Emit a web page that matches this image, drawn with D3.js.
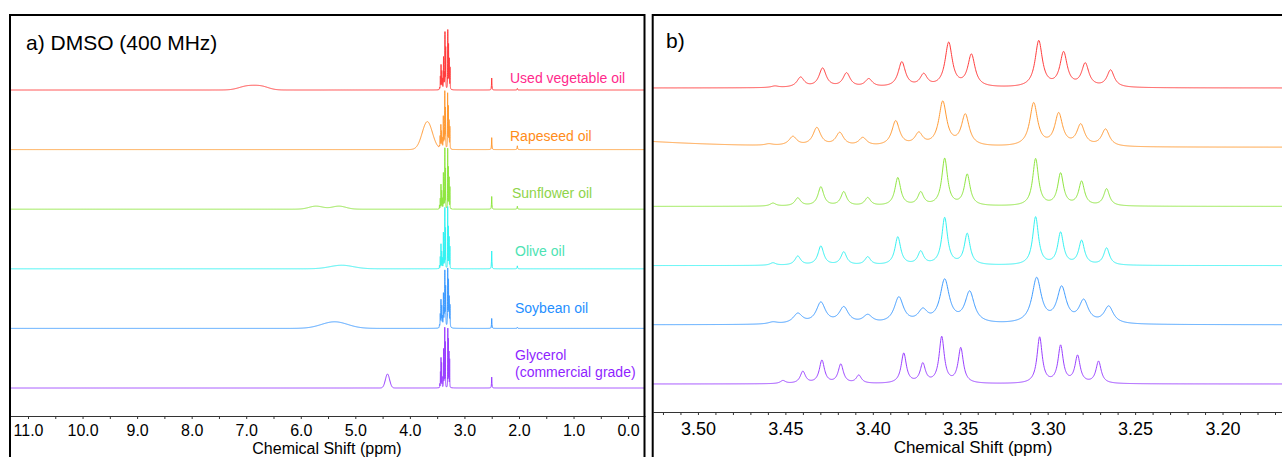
<!DOCTYPE html>
<html>
<head>
<meta charset="utf-8">
<script src="https://cdn.jsdelivr.net/npm/d3@7"></script>
<style>
  body { margin: 0; background: #fff; }
  svg { display: block; font-family: Arial, "Liberation Sans", sans-serif; }
</style>
</head>
<body>
<div id="chart-container"></div>
<script>
// samples, top to bottom
const samples = ['Used vegetable oil', 'Rapeseed oil', 'Sunflower oil', 'Olive oil', 'Soybean oil', 'Glycerol']
const traceColors = ['#ff3b3b', '#ff9a33', '#8fe640', '#33f2f2', '#3d9bff', '#9a40ff']
const labelColors = ['#ff2a8c', '#ff8c1a', '#8fd44a', '#4de3b3', '#1f8fff', '#8f1fff']

// glycerol multiplet peaks: [ppm, height]
const multUsed = [[3.4560, 1.5], [3.4413, 10], [3.4287, 19], [3.4150, 14], [3.4023, 8], [3.3834, 25], [3.3709, 12],
  [3.3566, 44], [3.3436, 32], [3.3051, 46], [3.2909, 34], [3.2785, 23], [3.2640, 17]]
const multRape = [[3.4594, 1.5], [3.4457, 9], [3.4320, 18], [3.4189, 13], [3.4057, 8], [3.3869, 25], [3.3737, 12],
  [3.3600, 44], [3.3471, 31], [3.3080, 43], [3.2937, 32], [3.2811, 21], [3.2669, 17]]
const multSun = [[3.4571, 3], [3.4429, 8], [3.4297, 19], [3.4166, 14], [3.4029, 8], [3.3857, 28], [3.3726, 13],
  [3.3589, 47], [3.3460, 31], [3.3069, 47], [3.2926, 32], [3.2806, 24], [3.2663, 17]]
const multOlive = [[3.4571, 2.5], [3.4429, 9], [3.4297, 19], [3.4166, 13], [3.4029, 8], [3.3857, 28], [3.3726, 13],
  [3.3589, 47], [3.3460, 31], [3.3069, 48], [3.2926, 32], [3.2806, 24], [3.2663, 17]]
const multSoy = [[3.4571, 2], [3.4429, 10], [3.4297, 21], [3.4166, 16], [3.4029, 8], [3.3851, 26], [3.3714, 12],
  [3.3589, 43], [3.3446, 31], [3.3063, 45], [3.2920, 35], [3.2794, 22], [3.2651, 17]]
const multGly = [[3.4514, 3], [3.4400, 12], [3.4291, 23], [3.4183, 19], [3.4080, 8], [3.3823, 30], [3.3714, 19],
  [3.3606, 46], [3.3497, 35], [3.3046, 46], [3.2926, 37], [3.2829, 27], [3.2709, 22]]
const multWidths = [0.0025, 0.0027, 0.0020, 0.0020, 0.0032, 0.0018] // half width, ppm

// other signals seen in panel a: [ppm, height, half width, shape]
const otherUsed = [[6.98, 3.0, 0.18, 'g'], [6.72, 2.6, 0.16, 'g'], [2.5, 9.4, 0.004, 'l'], [2.03, 1.2, 0.005, 'l']]
const otherRape = [[3.68, 22, 0.11, 'g'], [2.5, 9.4, 0.004, 'l'], [2.03, 3, 0.005, 'l']]
const otherSun = [[5.72, 2.4, 0.15, 'g'], [5.3, 2.4, 0.15, 'g'], [2.5, 10, 0.004, 'l'], [2.03, 2.3, 0.005, 'l']]
const otherOlive = [[5.25, 2.8, 0.25, 'g'], [2.5, 14, 0.004, 'l'], [2.03, 2.3, 0.005, 'l']]
const otherSoy = [[5.38, 5.2, 0.28, 'g'], [2.5, 7.8, 0.004, 'l'], [2.03, 0.8, 0.005, 'l']]
const otherGly = [[4.41, 11, 0.045, 'g'], [2.5, 8.6, 0.004, 'l']]

const multiplets = [multUsed, multRape, multSun, multOlive, multSoy, multGly]
const others = [otherUsed, otherRape, otherSun, otherOlive, otherSoy, otherGly]

const ticksA = d3.range(0, 11.01, 0.5)
const ticksB = d3.range(3.17, 3.525, 0.01)

const W = 1282
const H = 457

const svg = d3.select('#chart-container').append('svg')
  .attr('width', W)
  .attr('height', H)

// panels
const xa = d3.scaleLinear().domain([11.33, -0.31]).range([10, 645])
const xb = d3.scaleLinear().domain([3.5257, 3.166]).range([653, 1282])
const baseA = d3.scalePoint().domain(samples).range([90, 388])
const baseB = d3.scalePoint().domain(samples).range([88, 384])
const ya = d3.scaleLinear().domain([0, 48]).range([0, 61])
const yb = d3.scaleLinear().domain([0, 48]).range([0, 48])

const defs = svg.append('defs')
defs.append('clipPath').attr('id', 'clipA')
  .append('rect').attr('x', 10).attr('y', 15).attr('width', 635).attr('height', 400)
defs.append('clipPath').attr('id', 'clipB')
  .append('rect').attr('x', 653).attr('y', 15).attr('width', 629).attr('height', 396)

function intensity (i, ppm) {
  let v = 0
  const w = multWidths[i]
  multiplets[i].forEach(([c, h]) => {
    const d = (ppm - c) / w
    v += h / (1 + d * d)
  })
  others[i].forEach(([c, h, hw, shape]) => {
    const d = (ppm - c) / hw
    v += shape === 'g' ? h * Math.exp(-Math.LN2 * d * d) : h / (1 + d * d)
  })
  return v
}

function grid (lo, hi, step) {
  const g = []
  for (let v = lo; v <= hi; v += step) g.push(v)
  return g
}

// sampling positions for the drawn curves
const centers = others.flat().map(d => d[0]).concat(multiplets.flat().map(d => d[0]))
const gridA = grid(-0.31, 11.33, 0.005).concat(grid(3.2, 3.5, 0.0004), centers).sort((a, b) => b - a)
const gridB = grid(3.16, 3.53, 0.0002)

const gA = svg.append('g').attr('clip-path', 'url(#clipA)')
const gB = svg.append('g').attr('clip-path', 'url(#clipB)')

samples.forEach((name, i) => {
  const lineA = d3.line()
    .x(d => xa(d))
    .y(d => baseA(name) - ya(intensity(i, d)))
  gA.append('path')
    .datum(gridA)
    .attr('d', lineA)
    .attr('fill', 'none')
    .attr('stroke', traceColors[i])
    .attr('stroke-width', 1)

  const lineB = d3.line()
    .x(d => xb(d))
    .y(d => baseB(name) - yb(intensity(i, d)))
  gB.append('path')
    .datum(gridB)
    .attr('d', lineB)
    .attr('fill', 'none')
    .attr('stroke', traceColors[i])
    .attr('stroke-width', 1)
})

// sample labels in panel a
const labelPos = [[510, 83], [510, 141], [512, 198], [515, 256], [515, 313], [515, 360]]
samples.forEach((name, i) => {
  svg.append('text')
    .attr('x', labelPos[i][0])
    .attr('y', labelPos[i][1])
    .attr('fill', labelColors[i])
    .style('font-size', '14px')
    .text(name)
})
svg.append('text')
  .attr('x', 515)
  .attr('y', 377)
  .attr('fill', labelColors[5])
  .style('font-size', '14px')
  .text('(commercial grade)')

// axes
const xAxisA = d3.axisBottom(xa)
  .tickValues(ticksA)
  .tickSize(3)
  .tickSizeOuter(0)
  .tickPadding(6)
  .tickFormat(d => (Math.round(d * 2) % 2 === 0 ? d3.format('.1f')(d) : ''))

const xAxisB = d3.axisBottom(xb)
  .tickValues(ticksB)
  .tickSize(3)
  .tickSizeOuter(0)
  .tickPadding(7)
  .tickFormat(d => (Math.round(d * 100) % 5 === 0 ? d3.format('.2f')(d) : ''))

const axA = svg.append('g')
  .attr('class', 'x axis')
  .attr('transform', 'translate(0,416)')
  .call(xAxisA)
axA.selectAll('text').style('font-size', '16px').attr('fill', '#000')
  .style('font-family', 'Arial, "Liberation Sans", sans-serif')
axA.selectAll('line, path').attr('stroke', '#333')

const axB = svg.append('g')
  .attr('class', 'x axis')
  .attr('transform', 'translate(0,412)')
  .call(xAxisB)
axB.selectAll('text').style('font-size', '18px').attr('fill', '#000')
  .style('font-family', 'Arial, "Liberation Sans", sans-serif')
axB.selectAll('line, path').attr('stroke', '#333')

svg.append('text')
  .attr('x', 327)
  .attr('y', 454)
  .attr('text-anchor', 'middle')
  .style('font-size', '16px')
  .text('Chemical Shift (ppm)')

svg.append('text')
  .attr('x', 973)
  .attr('y', 453)
  .attr('text-anchor', 'middle')
  .style('font-size', '17px')
  .text('Chemical Shift (ppm)')

// frames
svg.append('rect')
  .attr('x', 10).attr('y', 15).attr('width', 634.5).attr('height', 500)
  .attr('fill', 'none').attr('stroke', '#000').attr('stroke-width', 2)
svg.append('rect')
  .attr('x', 652.7).attr('y', 15).attr('width', 700).attr('height', 500)
  .attr('fill', 'none').attr('stroke', '#000').attr('stroke-width', 2)

// panel titles
svg.append('text')
  .attr('x', 26).attr('y', 50)
  .style('font-size', '21px')
  .text('a) DMSO (400 MHz)')
svg.append('text')
  .attr('x', 666).attr('y', 48)
  .style('font-size', '21px')
  .text('b)')
</script>
</body>
</html>
